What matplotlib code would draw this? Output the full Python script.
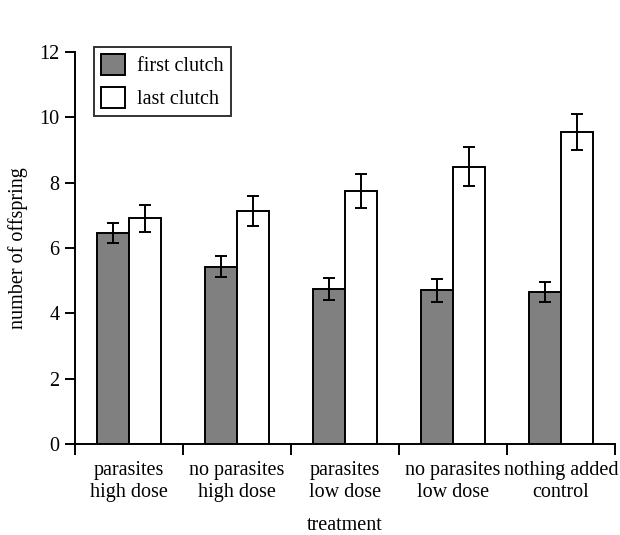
import matplotlib
matplotlib.use("Agg")
import matplotlib.pyplot as plt
import numpy as np
from matplotlib.patches import Patch

plt.rcParams['font.family'] = ['Liberation Serif', 'DejaVu Serif']

categories = ["parasites\nhigh dose", "no parasites\nhigh dose", "parasites\nlow dose",
              "no parasites\nlow dose", "nothing added\ncontrol"]
first_clutch = [6.46, 5.43, 4.75, 4.71, 4.65]
first_err = [0.32, 0.33, 0.34, 0.35, 0.31]
last_clutch = [6.91, 7.12, 7.74, 8.49, 9.55]
last_err = [0.41, 0.46, 0.52, 0.59, 0.56]
yticks = [0, 2, 4, 6, 8, 10, 12]

fs = 14.5
fig = plt.figure(figsize=(6.2, 5.35), dpi=100)
ax = fig.add_axes([75/620, 1-444/535, 540/620, 392/535])

x = np.arange(len(categories))
w = 0.296
lw = 1.4
ax.bar(x - w/2, first_clutch, w, color='#808080', edgecolor='black', linewidth=lw, zorder=2)
ax.bar(x + w/2, last_clutch, w, color='white', edgecolor='black', linewidth=lw, zorder=2)
ax.errorbar(x - w/2, first_clutch, yerr=first_err, fmt='none', ecolor='black',
            elinewidth=lw, capsize=4, capthick=lw, zorder=3)
ax.errorbar(x + w/2, last_clutch, yerr=last_err, fmt='none', ecolor='black',
            elinewidth=lw, capsize=4, capthick=lw, zorder=3)

ax.set_xlim(-0.5, len(categories) - 0.5)
ax.set_ylim(0, 12)
ax.set_yticks(yticks)
ax.tick_params(axis='y', length=7, width=lw, labelsize=fs, direction='out', pad=4)

ax.set_xticks(np.arange(len(categories) + 1) - 0.5)
ax.set_xticklabels([])
ax.tick_params(axis='x', which='major', length=8, width=lw, direction='out')
ax.set_xticks(x, minor=True)
ax.set_xticklabels(categories, minor=True, fontsize=fs, linespacing=1.25)
ax.tick_params(axis='x', which='minor', length=0, pad=12)

for s in ['top', 'right']:
    ax.spines[s].set_visible(False)
for s in ['left', 'bottom']:
    ax.spines[s].set_linewidth(lw)

ax.set_ylabel("number of offspring", fontsize=fs, labelpad=8)
ax.set_xlabel("treatment", fontsize=fs, labelpad=10)

handles = [Patch(facecolor='#808080', edgecolor='black', linewidth=lw, label='first clutch'),
           Patch(facecolor='white', edgecolor='black', linewidth=lw, label='last clutch')]
leg = ax.legend(handles=handles, loc='upper left', bbox_to_anchor=(19/540, 1.013),
                fontsize=fs, frameon=True, fancybox=False, edgecolor='black',
                handlelength=1.2, handleheight=1.2, borderpad=0.35, labelspacing=0.55,
                handletextpad=0.6, borderaxespad=0)
leg.get_frame().set_linewidth(lw)

fig.savefig("out.png", dpi=100)
